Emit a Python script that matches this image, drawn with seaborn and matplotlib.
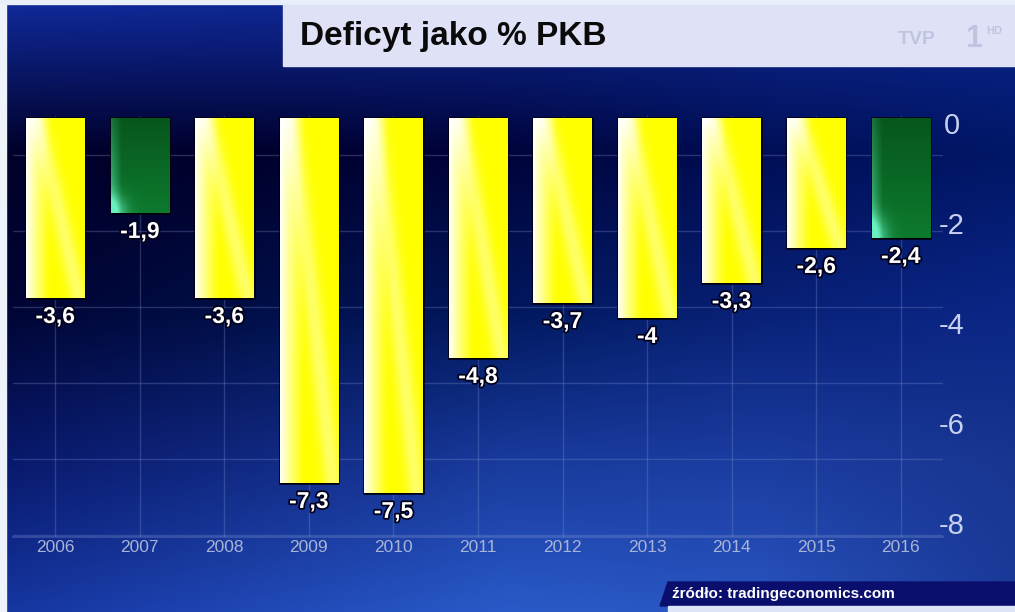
import matplotlib
matplotlib.use("Agg")
import numpy as np
import pandas as pd
import seaborn as sns
import matplotlib.pyplot as plt
from matplotlib import patheffects as pe, font_manager as fm
from matplotlib.patches import Rectangle, Polygon
from matplotlib.colors import to_rgb
from matplotlib.transforms import ScaledTranslation

# ---------------- data ----------------
years = ["2006", "2007", "2008", "2009", "2010", "2011", "2012", "2013", "2014", "2015", "2016"]
deficit = [-3.6, -1.9, -3.6, -7.3, -7.5, -4.8, -3.7, -4.0, -3.3, -2.6, -2.4]
bar_kind = ["yellow", "green", "yellow", "yellow", "yellow", "yellow",
            "yellow", "yellow", "yellow", "yellow", "green"]
y_ticks = [0, -2, -4, -6, -8]
y_tick_labels = ["0", "-2", "-4", "-6", "-8"]
title = "Deficyt jako % PKB"
source = "źródło: tradingeconomics.com"

sns.set_theme(style="white")
names = {f.name for f in fm.fontManager.ttflist}
narrow = "Liberation Sans Narrow" if "Liberation Sans Narrow" in names else "Liberation Sans"
plt.rcParams["font.family"] = ["Liberation Sans", "DejaVu Sans"]

W, H = 1015, 612
fig = plt.figure(figsize=(W / 100, H / 100), dpi=100)


def fx(px):
    return px / W


def fy(py):
    return 1 - py / H


# ---------------- background gradient ----------------
grid_hex = [
    ["#102a9a", "#0f2896", "#0d2890", "#0d2890", "#0d2890"],
    ["#000028", "#00002c", "#00033a", "#000e55", "#001666"],
    ["#000432", "#000e46", "#00175c", "#082075", "#0a2585"],
    ["#08186a", "#102880", "#183a9c", "#1a3ca0", "#183590"],
    ["#1535a0", "#2048b5", "#2a5ac8", "#2a55c0", "#1a3a9a"],
]
g = np.array([[to_rgb(c) for c in row] for row in grid_hex])
ny, nx = 240, 400
yy = np.linspace(0, 4, ny)
xx = np.linspace(0, 4, nx)
tmp = np.empty((5, nx, 3))
for r in range(5):
    for ch in range(3):
        tmp[r, :, ch] = np.interp(xx, np.arange(5), g[r, :, ch])
bgimg = np.empty((ny, nx, 3))
for c in range(nx):
    for ch in range(3):
        bgimg[:, c, ch] = np.interp(yy, np.arange(5), tmp[:, c, ch])
bg = fig.add_axes([0, 0, 1, 1], zorder=0)
bg.imshow(bgimg, extent=[0, 1, 0, 1], origin="upper", aspect="auto", interpolation="bilinear")
bg.set_xlim(0, 1)
bg.set_ylim(0, 1)
bg.axis("off")

# ---------------- main axes ----------------
ax = fig.add_axes([fx(13), fy(537), 930 / W, 421 / H], zorder=1)
ax.patch.set_alpha(0)

df = pd.DataFrame({"rok": years, "deficyt": deficit, "kolor": bar_kind})
sns.barplot(data=df, x="rok", y="deficyt", hue="kolor",
            palette={"yellow": "#ffff00", "green": "#0b6a2a"},
            dodge=False, width=0.69, legend=False, ax=ax,
            edgecolor="#00000a", linewidth=1.8, zorder=3)


def bar_gradient(kind, n=80):
    X, Y = np.meshgrid(np.linspace(0, 1, n), np.linspace(0, 1, n))
    if kind == "yellow":
        base = np.zeros((n, n, 3))
        base[..., 0] = 1.0
        base[..., 1] = 1.0
        base[..., 2] = 0.0
        w = np.clip(1 - X / 0.42, 0, 1) ** 1.2 * 0.97
        w += 0.4 * np.exp(-((X - 0.2 - 0.7 * Y) / 0.16) ** 2)
        w = np.clip(w, 0, 1)[..., None]
        img = base * (1 - w) + w * np.array([1.0, 1.0, 1.0])
    else:
        top = np.array(to_rgb("#07561c"))
        mid = np.array(to_rgb("#0d7a2e"))
        img = top * (1 - Y[..., None]) + mid * Y[..., None]
        w = np.clip(1 - X / 0.18, 0, 1) * 0.6 * (0.3 + 0.7 * Y)
        w += 0.9 * np.exp(-(X ** 2 / 0.06 + (1 - Y) ** 2 / 0.03))
        w = np.clip(w, 0, 1)[..., None]
        img = img * (1 - w) + w * np.array(to_rgb("#6af0c0"))
    return np.clip(img, 0, 1)


for p in list(ax.patches):
    h = p.get_height()
    if h == 0 or np.isnan(h):
        continue
    x0, w = p.get_x(), p.get_width()
    y0 = p.get_y()
    idx = int(round(x0 + w / 2))
    lo, hi = min(y0, y0 + h), max(y0, y0 + h)
    im = ax.imshow(bar_gradient(bar_kind[idx]), extent=[x0, x0 + w, lo, hi],
                   origin="upper", aspect="auto", interpolation="bilinear", zorder=3.1)
    im.set_clip_path(p)

for i, v in enumerate(deficit):
    ax.annotate(f"{v:g}".replace(".", ","), xy=(i, v), xytext=(0, -5),
                textcoords="offset points", ha="center", va="top",
                color="white", fontsize=16.5, fontweight="bold",
                path_effects=[pe.withStroke(linewidth=2.5, foreground="#00001a")],
                zorder=5, annotation_clip=False)

ax.set_xlim(-0.5, 10.5)
ax.set_ylim(-8.38, 0.04)
ax.set_xlabel("")
ax.set_ylabel("")

ax.yaxis.tick_right()
ax.set_yticks(y_ticks)
ax.set_yticklabels(y_tick_labels)
ax.set_yticks(np.arange(-0.74, -8.4, -1.52), minor=True)
ax.tick_params(axis="y", which="both", length=0, pad=6.5, labelsize=21, labelcolor="#c8d0f0")
shift = ScaledTranslation(0, -5 / 100, fig.dpi_scale_trans)
for lab in ax.get_yticklabels():
    lab.set_ha("center")
    lab.set_clip_on(False)
    lab.set_transform(lab.get_transform() + shift)
ax.tick_params(axis="x", length=0, pad=2, labelsize=12.5, labelcolor="#a8b4d8")
for lab in ax.get_xticklabels():
    lab.set_family(narrow)

ax.grid(False)
ax.grid(which="minor", axis="y", color="#7f90d0", alpha=0.3, lw=1)
ax.grid(which="major", axis="x", color="#7f90d0", alpha=0.3, lw=1)
ax.set_axisbelow(True)
for s in ["top", "left", "right"]:
    ax.spines[s].set_visible(False)
ax.spines["bottom"].set_color("#7f90d0")
ax.spines["bottom"].set_alpha(0.35)

# ---------------- decorations ----------------
fig.patches.append(Rectangle((0, 0), fx(6), 1, transform=fig.transFigure,
                             color="#eef2fb", zorder=2))
fig.patches.append(Rectangle((0, fy(4)), 1, 4 / H, transform=fig.transFigure,
                             color="#e8eefa", zorder=2))
fig.patches.append(Rectangle((fx(283), fy(66)), fx(1015 - 283), (66 - 5) / H,
                             transform=fig.transFigure, color="#dfe2f7", zorder=2))
fig.text(fx(300), fy(37), title, ha="left", va="center", fontsize=24,
         fontweight="bold", family=narrow, color="#0a0a0a", zorder=3)
fig.text(fx(898), fy(40), "TVP", ha="left", va="center", fontsize=14,
         fontweight="bold", color="#c0c4e0", zorder=3)
fig.text(fx(965), fy(39), "1", ha="left", va="center", fontsize=22,
         fontweight="bold", color="#c0c4e0", zorder=3)
fig.text(fx(986), fy(31), "HD", ha="left", va="center", fontsize=8,
         fontweight="bold", color="#c0c4e0", zorder=3)

src_poly = [(fx(660), fy(606)), (fx(668), fy(582)), (1, fy(582)), (1, fy(606))]
fig.patches.append(Polygon(src_poly, closed=True, transform=fig.transFigure,
                           color="#0a0f6e", zorder=2))
fig.patches.append(Rectangle((fx(668), 0), 1 - fx(668), 6 / H,
                             transform=fig.transFigure, color="#dce6f8", zorder=2))
fig.text(fx(672), fy(594), source, ha="left", va="center", fontsize=11,
         fontweight="bold", family=narrow, color="white", zorder=3)

fig.savefig("out.png", dpi=100)
